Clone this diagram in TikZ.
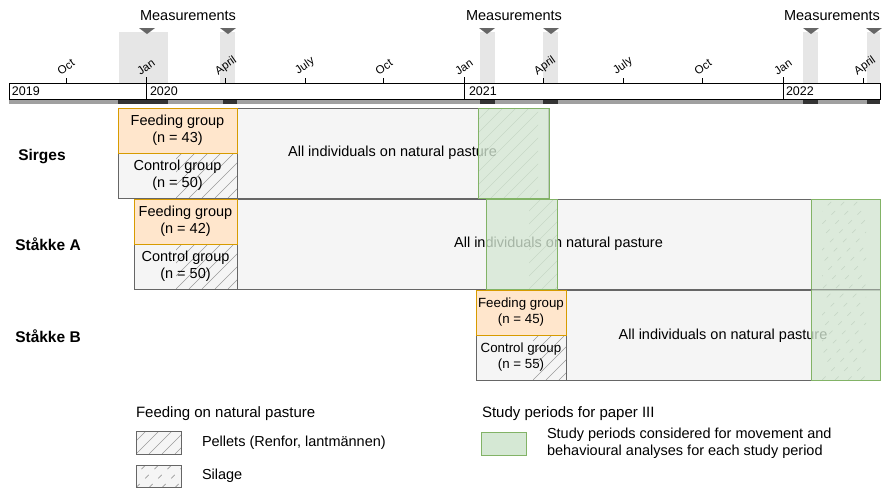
\documentclass[tikz,border=0pt]{standalone}
\usepackage{fontspec}
\setmainfont{Liberation Sans}
\definecolor{fdfill}{HTML}{FFE6CC}
\definecolor{fdline}{HTML}{D79B00}
\definecolor{ctfill}{HTML}{F5F5F5}
\definecolor{ctline}{HTML}{666666}
\definecolor{grfill}{HTML}{D5E8D4}
\definecolor{grline}{HTML}{82B366}
\definecolor{colfill}{HTML}{E6E6E6}
\definecolor{barfill}{HTML}{A0A0A0}
\definecolor{bardark}{HTML}{333333}
\definecolor{hatchc}{HTML}{9A9A9A}
\newcommand{\pelhatch}[4]{%
  \begin{scope}
    \clip (#1,#2) rectangle (#3,#4);
    \foreach \k in {-16,...,8} \draw[hatchc, line width=0.6pt] ({#1+\k*13},#4) -- ++(200,-200);
  \end{scope}}
\newcommand{\silhatch}[4]{%
  \begin{scope}
    \clip (#1,#2) rectangle (#3,#4);
    \foreach \k in {-16,...,8} \draw[hatchc, line width=0.7pt, dash pattern=on 5pt off 8pt] ({#1+\k*13},#4) -- ++(200,-200);
  \end{scope}}
\begin{document}
\begin{tikzpicture}[x=1pt,y=-1pt,
  every node/.style={inner sep=0pt, outer sep=0pt},
  bigf/.style={font=\fontsize{14.5}{17}\selectfont},
  smallf/.style={font=\fontsize{13.3}{16}\selectfont},
  feedbox/.style={draw=fdline, fill=fdfill, line width=0.9pt, align=center, anchor=north west},
  ctrlbox/.style={draw=ctline, line width=0.9pt, align=center, anchor=north west},
  pastbox/.style={draw=ctline, fill=ctfill, line width=0.9pt, anchor=north west},
  greenbox/.style={draw=grline, fill=grfill, fill opacity=0.78, draw opacity=1, line width=0.9pt, anchor=north west},
  month/.style={font=\fontsize{11.5}{12}\selectfont, rotate=35},
  yearlab/.style={font=\fontsize{12.5}{14}\selectfont, anchor=west},
  meas/.style={font=\fontsize{14.5}{17}\selectfont},
  site/.style={font=\bfseries\fontsize{15.5}{18}\selectfont},
  legtext/.style={font=\fontsize{14.5}{17}\selectfont, anchor=west, align=left}
]
\useasboundingbox (0,0) rectangle (883,488);

% measurement columns
\foreach \a/\b in {119/168,220/235,480/495,543/558,803/818,867/880}
  \fill[colfill] (\a,32) rectangle (\b,83);
% triangles
\foreach \c in {147,228,487,551,811,874}
  \fill[ctline] ({\c-8},28) -- ({\c+8},28) -- (\c,34) -- cycle;
\node[meas] (ms1) at (188,16) {Measurements};
\node[meas] (ms2) at (514,16) {Measurements};
\node[meas] (ms3) at (832,16) {Measurements};

% timeline
\draw[fill=white, line width=0.8pt] (9,83) rectangle (880,99);
\fill[barfill] (9,99) rectangle (880,104);
\foreach \a/\b in {118/168,223/237,480/495,543/558,803/818,867/880}
  \fill[bardark] (\a,99) rectangle (\b,104);
\draw[line width=0.8pt] (9,99) -- (880,99);
\foreach \x in {66,225,305,383,543,623,702,863}
  \draw[line width=0.8pt] (\x,78) -- (\x,83);
\foreach \x in {146,464,783}
  \draw[line width=0.8pt] (\x,77) -- (\x,99);
\node[month] (m1) at (66,67) {Oct};
\node[month] (m2) at (146,67) {Jan};
\node[month] (m3) at (226,66) {April};
\node[month] (m4) at (305,66) {July};
\node[month] (m5) at (384,67) {Oct};
\node[month] (m6) at (464,67) {Jan};
\node[month] (m7) at (545,66) {April};
\node[month] (m8) at (623,66) {July};
\node[month] (m9) at (703,67) {Oct};
\node[month] (m10) at (783,67) {Jan};
\node[month] (m11) at (865,66) {April};
\node[yearlab] (y1) at (12,91) {2019};
\node[yearlab] (y2) at (150,91) {2020};
\node[yearlab] (y3) at (469,91) {2021};
\node[yearlab] (y4) at (786,91) {2022};

% site labels
\node[site] (sir) at (42,157) {Sirges};
\node[site] (sta) at (48,244) {Ståkke A};
\node[site] (stb) at (48,336) {Ståkke B};

% Sirges
\node[pastbox, bigf, minimum width=311pt, minimum height=90pt] (sp) at (237,108) {};
\pelhatch{478}{108}{538}{198}
\node[bigf] (spt) at (392.5,153) {All individuals on natural pasture};
\fill[ctfill] (118,153) rectangle (237,198);
\pelhatch{176}{153}{237}{198}
\node[ctrlbox, bigf, minimum width=119pt, minimum height=45pt] (sc) at (118,153) {Control group\\(n = 50)};
\node[feedbox, bigf, minimum width=119pt, minimum height=45pt] (sf) at (118,108) {Feeding group\\(n = 43)};

% Ståkke A
\node[pastbox, bigf, minimum width=643pt, minimum height=90pt] (ap) at (237,199) {};
\pelhatch{529}{199}{557}{289}
\node[bigf] (apt) at (558.5,244) {All individuals on natural pasture};
\fill[ctfill] (134,244) rectangle (237,289);
\pelhatch{176}{244}{237}{289}
\node[ctrlbox, bigf, minimum width=103pt, minimum height=45pt] (ac) at (134,244) {Control group\\(n = 50)};
\node[feedbox, bigf, minimum width=103pt, minimum height=45pt] (af) at (134,199) {Feeding group\\(n = 42)};

% Ståkke B
\node[pastbox, minimum width=314pt, minimum height=90pt] (bp) at (566,290) {};
\node[bigf] (bpt) at (723,336) {All individuals on natural pasture};
\fill[ctfill] (476,335) rectangle (566,380);
\pelhatch{533}{335}{566}{380}
\node[ctrlbox, smallf, minimum width=90pt, minimum height=45pt] (bc) at (476,335) {Control group\\(n = 55)};
\node[feedbox, smallf, minimum width=90pt, minimum height=45pt] (bf) at (476,290) {Feeding group\\(n = 45)};

% silage hatch and green study periods
\silhatch{822}{199}{866}{380}
\node[greenbox, minimum width=71pt, minimum height=90pt] (gs) at (478,108) {};
\node[greenbox, minimum width=71pt, minimum height=90pt] (ga) at (486,199) {};
\node[greenbox, minimum width=69pt, minimum height=181pt] (gr) at (811,199) {};
\draw[ctline, line width=0.6pt, opacity=0.5] (811,289.5) -- (880,289.5);

% legend
\node[legtext, font=\fontsize{15}{17}\selectfont] (lh1) at (136,414) {Feeding on natural pasture};
\fill[ctfill] (136,431) rectangle (181,454);
\pelhatch{136}{431}{181}{454}
\draw[ctline, line width=0.9pt] (136,431) rectangle (181,454);
\node[legtext] (lpel) at (202,443) {Pellets (Renfor, lantmännen)};
\fill[ctfill] (136,465) rectangle (181,487.5);
\silhatch{136}{465}{181}{487.5}
\draw[ctline, line width=0.9pt] (136,465) rectangle (181,487.5);
\node[legtext] (lsil) at (202,476) {Silage};
\node[legtext, font=\fontsize{15}{17}\selectfont] (lh2) at (482,414) {Study periods for paper III};
\node[greenbox, fill opacity=1, minimum width=45pt, minimum height=23pt] (lg) at (481,432) {};
\node[legtext, anchor=north west] (lgt) at (547,428) {Study periods considered for movement and\\behavioural analyses for each study period};
\end{tikzpicture}
\end{document}
